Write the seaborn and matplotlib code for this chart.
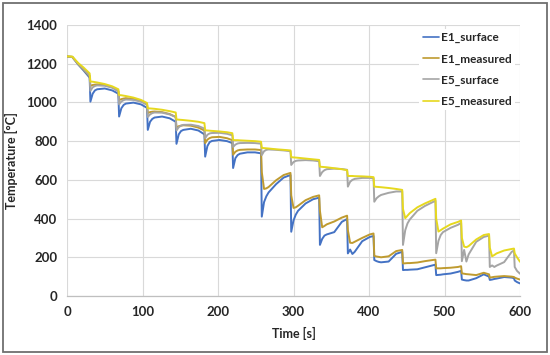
import matplotlib.pyplot as plt
import seaborn as sns
import pandas as pd
from matplotlib.patches import Rectangle

# time points [s] (one row per rolling pass)
time_s = [
    0, 7, 15, 22, 30,
    31, 34, 37, 40, 50, 60, 68,
    69, 72, 75, 78, 88, 98, 106,
    107, 110, 113, 116, 126, 136, 144,
    145, 148, 151, 154, 164, 174, 182,
    183, 186, 189, 192, 202, 212, 219,
    220, 223, 226, 229, 239, 249, 257,
    258, 261, 264, 267, 277, 287, 296,
    297, 300, 303, 306, 316, 326, 334,
    335, 338, 341, 344, 354, 364, 371,
    372, 375, 378, 381, 391, 401, 406,
    407, 410, 413, 416, 426, 436, 444,
    445, 448, 451, 454, 464, 474, 488,
    489, 492, 495, 498, 508, 518, 522,
    523, 526, 529, 532, 542, 552, 559,
    560, 563, 566, 569, 579, 589, 592,
    593, 596, 600,
]

e1_surface = [
    1237, 1235, 1195, 1165, 1128,
    1004, 1045, 1062, 1068, 1072, 1062, 1045,
    927, 970, 987, 994, 999, 990, 972,
    858, 900, 915, 922, 927, 918, 900,
    786, 835, 852, 858, 864, 855, 835,
    720, 775, 795, 801, 806, 800, 790,
    661, 712, 728, 735, 742, 742, 737,
    410, 485, 515, 535, 578, 612, 625,
    332, 390, 420, 440, 478, 500, 508,
    264, 295, 312, 318, 330, 383, 398,
    220, 240, 217, 228, 283, 305, 310,
    186, 180, 176, 174, 178, 218, 228,
    134, 135, 135, 136, 138, 148, 162,
    108, 109, 110, 112, 116, 125, 130,
    85, 82, 80, 80, 92, 112, 100,
    83, 85, 88, 90, 98, 95, 92,
    80, 72, 65,
]

e1_measured = [
    1237, 1235, 1197, 1170, 1135,
    1085, 1090, 1092, 1093, 1090, 1078, 1058,
    1012, 1017, 1020, 1022, 1018, 1007, 990,
    945, 950, 952, 953, 950, 940, 925,
    870, 877, 880, 882, 880, 870, 855,
    790, 808, 816, 820, 822, 815, 805,
    730, 745, 752, 755, 757, 757, 754,
    640, 553, 556, 563, 598, 625, 636,
    520, 455, 458, 466, 495, 512, 520,
    440, 355, 362, 370, 385, 405, 415,
    340, 275, 274, 280, 300, 318, 323,
    207, 204, 202, 200, 205, 232, 238,
    168, 169, 170, 170, 173, 180, 188,
    143, 143, 143, 144, 146, 150, 154,
    117, 115, 113, 112, 108, 120, 112,
    95, 97, 99, 100, 103, 100, 98,
    95, 90, 85,
]

e5_surface = [
    1237, 1235, 1198, 1172, 1138,
    1060, 1078, 1085, 1088, 1086, 1076, 1058,
    990, 1005, 1012, 1015, 1013, 1004, 988,
    925, 938, 945, 948, 947, 938, 925,
    855, 872, 880, 884, 885, 878, 865,
    815, 833, 840, 842, 843, 838, 830,
    770, 782, 788, 790, 791, 790, 787,
    728, 748, 755, 757, 755, 752, 748,
    677, 692, 698, 700, 702, 700, 696,
    620, 640, 650, 655, 658, 656, 652,
    565, 590, 600, 605, 610, 610, 608,
    487, 505, 515, 522, 533, 540, 540,
    264, 340, 375, 395, 440, 465, 492,
    221, 285, 315, 330, 352, 368, 378,
    180, 238, 178, 215, 280, 305, 312,
    150, 158, 150, 157, 175, 228, 235,
    150, 130, 115,
]

e5_measured = [
    1238, 1237, 1203, 1180, 1150,
    1108, 1107, 1105, 1103, 1095, 1083, 1068,
    1038, 1037, 1035, 1033, 1025, 1013, 997,
    970, 969, 968, 967, 962, 955, 948,
    912, 911, 910, 909, 905, 900, 893,
    856, 855, 854, 853, 850, 846, 841,
    806, 805, 805, 804, 802, 800, 797,
    765, 764, 763, 762, 758, 755, 752,
    717, 716, 715, 714, 710, 706, 703,
    668, 667, 666, 665, 660, 655, 650,
    620, 620, 620, 619, 618, 616, 614,
    565, 564, 563, 562, 558, 553, 548,
    450, 402, 415, 428, 458, 478, 502,
    400, 333, 340, 348, 370, 383, 390,
    300, 255, 252, 258, 292, 315, 320,
    250, 205, 212, 220, 235, 243, 245,
    220, 200, 177,
]

series_names = ['E1_surface', 'E1_measured', 'E5_surface', 'E5_measured']
series_colors = ['#4472C4', '#BF9B30', '#A5A5A5', '#E6D81E']

sns.set_style("whitegrid")
plt.rcParams['font.family'] = ['Lato', 'DejaVu Sans']

frames = []
for name, values in zip(series_names, [e1_surface, e1_measured, e5_surface, e5_measured]):
    frames.append(pd.DataFrame({'Time [s]': time_s, 'Temperature': values, 'Series': name}))
df = pd.concat(frames, ignore_index=True)

W, H = 550, 355
fig = plt.figure(figsize=(W / 100, H / 100), dpi=100)
ax = fig.add_axes([67 / W, 1 - 296 / H, (520 - 67) / W, (296 - 25) / H])

sns.lineplot(data=df, x='Time [s]', y='Temperature', hue='Series',
             palette=dict(zip(series_names, series_colors)),
             estimator=None, sort=False, linewidth=1.4, ax=ax)

ax.set_xlim(0, 600)
ax.set_ylim(0, 1400)
ax.set_xticks(range(0, 601, 100))
ax.set_yticks(range(0, 1401, 200))
ax.grid(True, color='#D9D9D9', linewidth=0.8)
for side in ['top', 'right', 'left']:
    ax.spines[side].set_visible(False)
ax.spines['bottom'].set_color('#BFBFBF')
ax.spines['bottom'].set_linewidth(0.9)
ax.tick_params(length=0, labelsize=9.5, pad=7, colors='#262626')
for lbl in ax.get_xticklabels() + ax.get_yticklabels():
    lbl.set_fontweight('bold')

ax.set_xlabel('Time [s]', fontsize=9, fontweight='bold', color='#262626', labelpad=7)
ax.set_ylabel('Temperature [°C]', fontsize=9, fontweight='bold', color='#262626', labelpad=6)

handles, labels = ax.get_legend_handles_labels()
leg = ax.legend(handles, labels, loc='upper right', bbox_to_anchor=(0.995, 0.995),
                prop={'size': 8.5, 'weight': 'bold'}, frameon=True, facecolor='white',
                edgecolor='none', framealpha=1, handlelength=1.4, handletextpad=0.15,
                labelspacing=0.85, borderpad=0.3, borderaxespad=0.2)
for line in leg.get_lines():
    line.set_linewidth(1.2)

# chart border
fig.patches.append(Rectangle((2.5 / W, 3.5 / H), 1 - 5.5 / W, 1 - 6.5 / H,
                             transform=fig.transFigure, fill=False,
                             edgecolor='#6F6F6F', linewidth=1.3))

fig.savefig('out.png', dpi=100, facecolor='white')
